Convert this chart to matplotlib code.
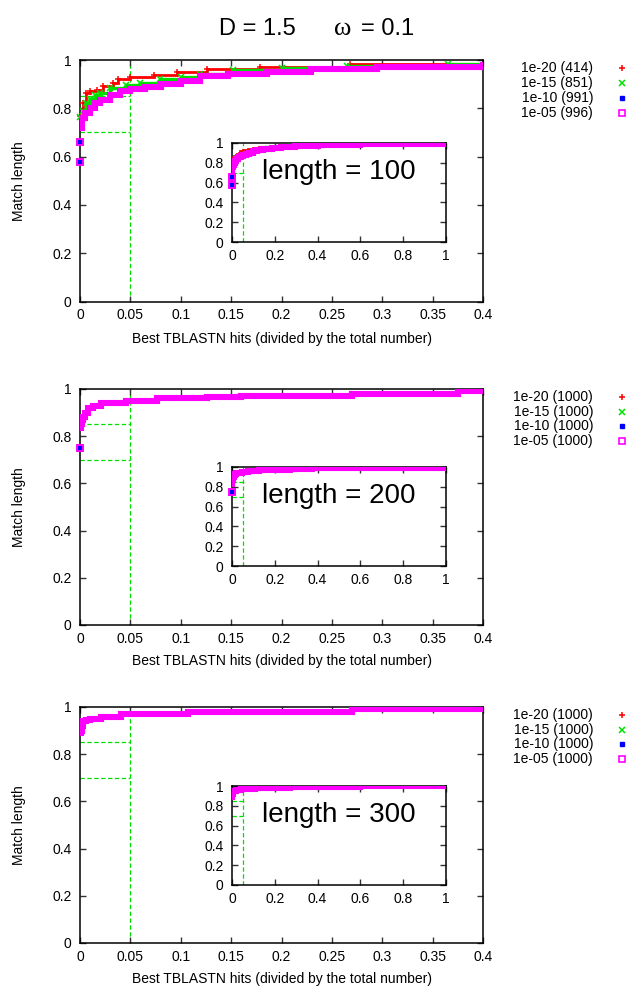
import matplotlib
matplotlib.use("Agg")
from matplotlib import pyplot as plt

plt.rcParams['font.family'] = ['Liberation Sans', 'DejaVu Sans']

EVALUES = ['1e-20', '1e-15', '1e-10', '1e-05']
COLORS = ['#ff0000', '#00e000', '#0000ff', '#ff00ff']
LENGTHS = [100, 200, 300]

# number of query hits kept at each e-value cut
HITS_100 = [414, 851, 991, 996]
HITS_200 = [1000, 1000, 1000, 1000]
HITS_300 = [1000, 1000, 1000, 1000]

# length = 100, sorted match length against fraction of best hits
RED_100_X = [0, 0.003, 0.006, 0.01, 0.017, 0.023, 0.033, 0.038, 0.05, 0.073, 0.096,
             0.126, 0.179, 0.268, 0.6, 1.0]
RED_100_Y = [0.77, 0.82, 0.862, 0.87, 0.877, 0.891, 0.903, 0.92, 0.93, 0.937, 0.95,
             0.961, 0.972, 0.982, 0.99, 0.99]
GREEN_100_X = [0, 0.003, 0.006, 0.01, 0.015, 0.02, 0.03, 0.046, 0.06, 0.079, 0.1,
               0.119, 0.152, 0.2, 0.265, 0.365, 0.55, 1.0]
GREEN_100_Y = [0.765, 0.79, 0.82, 0.84, 0.855, 0.865, 0.882, 0.896, 0.905, 0.92, 0.93,
               0.942, 0.958, 0.965, 0.975, 0.985, 0.99, 0.99]
BLUE_100_X = [0, 0.002, 0.005, 0.01, 0.015, 0.02, 0.03, 0.04, 0.05, 0.065, 0.08, 0.1,
              0.119, 0.147, 0.186, 0.229, 0.295, 0.4, 0.6, 1.0]
BLUE_100_Y = [0.72, 0.76, 0.78, 0.80, 0.82, 0.835, 0.855, 0.87, 0.88, 0.89, 0.90, 0.915,
              0.932, 0.942, 0.951, 0.961, 0.972, 0.978, 0.985, 0.985]
MAGENTA_100_X = BLUE_100_X
MAGENTA_100_Y = BLUE_100_Y
LOW_100 = [0.578, 0.66]

# length = 200 and 300: every e-value keeps the same 1000 hits
ALL_200_X = [0, 0.0005, 0.0017, 0.003, 0.005, 0.008, 0.013, 0.021, 0.046, 0.076,
             0.126, 0.16, 0.27, 0.375, 0.6, 1.0]
ALL_200_Y = [0.833, 0.85, 0.87, 0.883, 0.897, 0.918, 0.929, 0.939, 0.95, 0.96,
             0.965, 0.97, 0.98, 0.99, 0.993, 0.993]
LOW_200 = [0.751]
ALL_300_X = [0, 0.001, 0.002, 0.003, 0.006, 0.01, 0.021, 0.041, 0.107, 0.27, 0.6, 1.0]
ALL_300_Y = [0.89, 0.90, 0.918, 0.94, 0.945, 0.948, 0.956, 0.969, 0.98, 0.99, 0.995, 0.995]
LOW_300 = []

CUT_X = 0.05
CUT_Y = [0.85, 0.7]

MARKERS = ['+', 'x', 's', 's']
LWS = [2.0, 2.4, 2.4, 4.4]

panels = [
    ([(RED_100_X, RED_100_Y), (GREEN_100_X, GREEN_100_Y),
      (BLUE_100_X, BLUE_100_Y), (MAGENTA_100_X, MAGENTA_100_Y)], LOW_100, HITS_100, True),
    ([(ALL_200_X, ALL_200_Y)] * 4, LOW_200, HITS_200, False),
    ([(ALL_300_X, ALL_300_Y)] * 4, LOW_300, HITS_300, False),
]

W, H = 628, 989
fig = plt.figure(figsize=(W / 100, H / 100), dpi=100)


def px_axes(left, top, right, bottom):
    return fig.add_axes([left / W, 1 - bottom / H, (right - left) / W, (bottom - top) / H])


def style(ax, xmax, xstep, ticklen):
    ax.set_xlim(0, xmax)
    ax.set_ylim(0, 1)
    ax.set_xticks([i * xstep for i in range(int(round(xmax / xstep)) + 1)])
    ax.set_yticks([0, 0.2, 0.4, 0.6, 0.8, 1])
    ax.xaxis.set_major_formatter(matplotlib.ticker.FormatStrFormatter('%g'))
    ax.yaxis.set_major_formatter(matplotlib.ticker.FormatStrFormatter('%g'))
    ax.tick_params(direction='in', top=True, right=True, length=ticklen, width=1,
                   labelsize=10, color='#333333')
    ax.tick_params(axis='x', pad=5)
    ax.tick_params(axis='y', pad=6)
    for s in ax.spines.values():
        s.set_linewidth(1.1)


def draw(ax, curves, low, points):
    dash = dict(color='#00e000', lw=0.9, dashes=(3.5, 2), zorder=1)
    ax.plot([CUT_X, CUT_X], [0, 1], **dash)
    for y in CUT_Y:
        ax.plot([0, CUT_X], [y, y], **dash)
    for (xs, ys), c, m, lw in zip(curves, COLORS, MARKERS, LWS):
        ax.step(xs, ys, where='post', color=c, lw=lw, zorder=3, solid_joinstyle='miter')
        # the sparser cuts keep their point symbols along the curve
        if points and m in '+x':
            ax.plot(xs[:-1], ys[:-1], ls='none', marker=m, ms=4, color=c, mew=1.1,
                    zorder=3, clip_on=False)
    for y in low:
        ax.plot([0.0], [y], ls='none', marker='s', ms=3, color='#0000ff', zorder=4, clip_on=False)
        ax.plot([0.0], [y], ls='none', marker='s', ms=5, mfc='none', mec='#ff00ff', mew=1.4,
                zorder=4, clip_on=False)


tops = [60, 389, 707]
bottoms = [301.5, 625, 943]
inset_tops = [143, 467, 786]
inset_bottoms = [242, 566, 885]

for (curves, low, hits, points), length, top, bottom, itop, ibot in zip(
        panels, LENGTHS, tops, bottoms, inset_tops, inset_bottoms):
    ax = px_axes(80, top, 483, bottom)
    style(ax, 0.4, 0.05, 4)
    draw(ax, curves, low, points)
    ax.set_xlabel('Best TBLASTN hits (divided by the total number)', fontsize=10)
    ax.set_ylabel('Match length', fontsize=10)
    ax.xaxis.set_label_coords(0.5, -0.125)
    ax.yaxis.set_label_coords(-0.135, 0.5)

    # key: label text on the left, point sample on the right
    for i, (ev, n, c, m) in enumerate(zip(EVALUES, hits, COLORS, MARKERS)):
        yk = 0.967 - i * 0.0625
        ax.text(1.273, yk, f'{ev} ({n})', transform=ax.transAxes, ha='right', va='center',
                fontsize=10)
        if i == 3:
            ax.plot([1.345], [yk], transform=ax.transAxes, marker='s', ms=4, mfc='none',
                    mec=c, mew=1.2, clip_on=False)
        elif i == 2:
            ax.plot([1.345], [yk], transform=ax.transAxes, marker='s', ms=3, color=c,
                    clip_on=False)
        else:
            ax.plot([1.345], [yk], transform=ax.transAxes, marker=m, ms=4.5, color=c,
                    mew=1.1, clip_on=False)

    ins = px_axes(232, itop, 446, ibot)
    style(ins, 1.0, 0.2, 4)
    draw(ins, curves, low, False)
    ins.text(0.5, 0.71, f'length = {length}', transform=ins.transAxes, ha='center',
             va='center', fontsize=20)

ty = 1 - 35 / H
fig.text(257 / W, ty, 'D = 1.5', ha='center', va='baseline', fontsize=17)
fig.text(343 / W, ty, 'ω', ha='center', va='baseline', fontsize=19,
         family=['Liberation Serif', 'DejaVu Serif'])
fig.text(361 / W, ty, '= 0.1', ha='left', va='baseline', fontsize=17)

fig.savefig('out.png', dpi=100)
